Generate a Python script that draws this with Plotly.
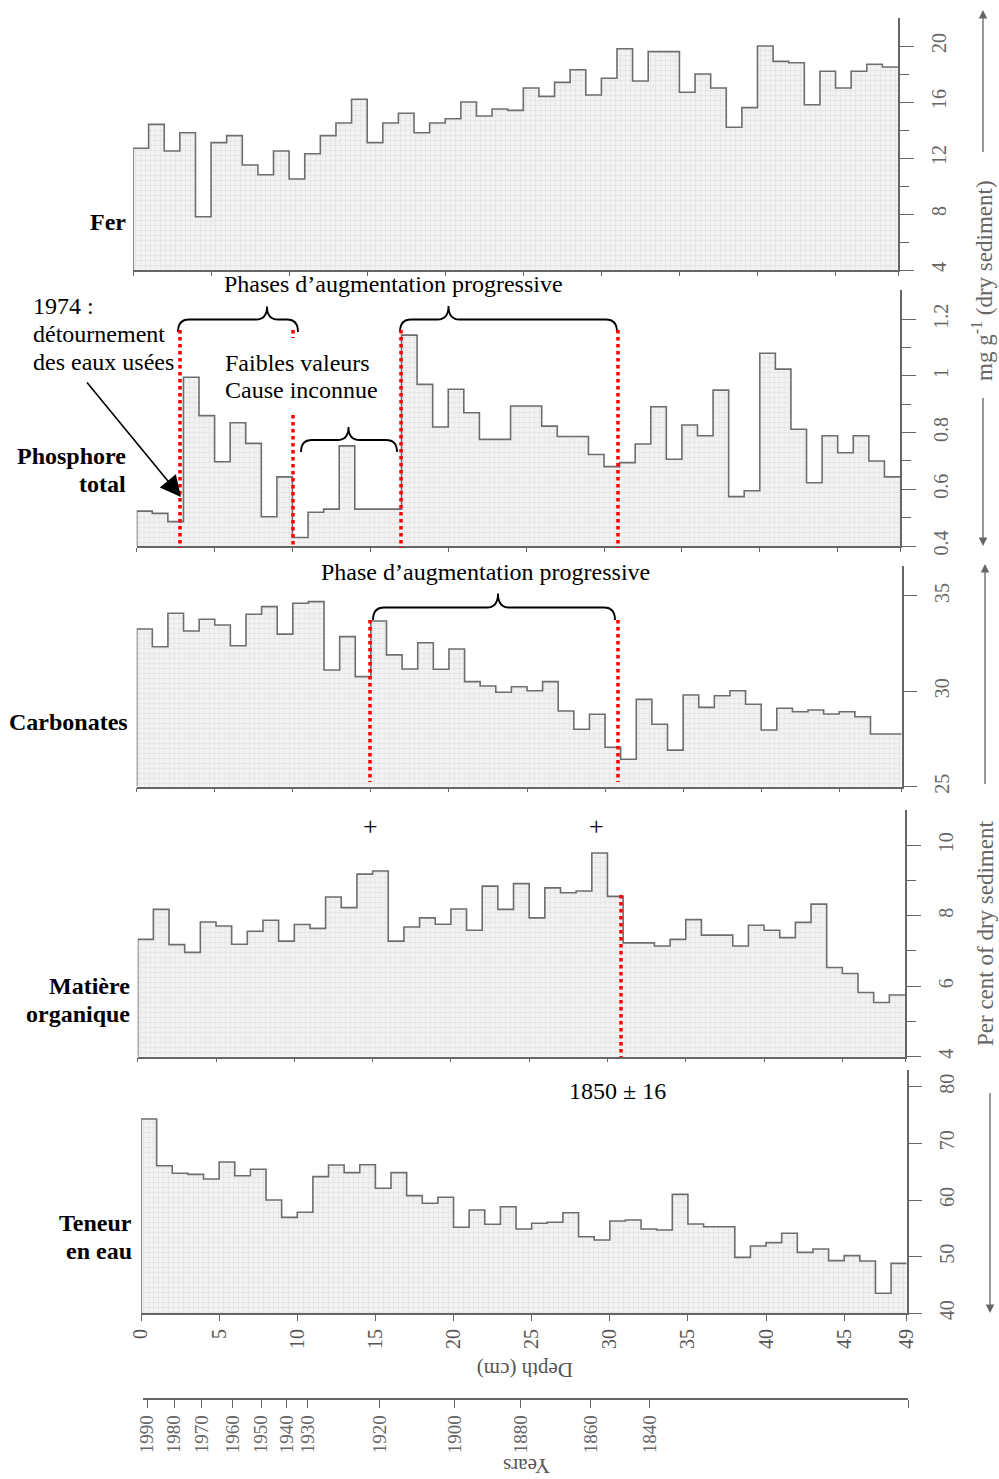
import plotly.graph_objects as go

W, H = 999, 1479
def fx(p): return p / W
def fy(p): return 1 - p / H

# ---------------- data ----------------
depth_edges = list(range(50))          # 0..49 cm, one sample per cm
depth_ticks = [0, 5, 10, 15, 20, 25, 30, 35, 40, 45, 49]

fer = [12.7, 14.4, 12.5, 13.8, 7.8, 13.1, 13.6, 11.5, 10.8, 12.5,
       10.5, 12.3, 13.6, 14.5, 16.2, 13.1, 14.5, 15.2, 13.8, 14.5,
       14.8, 16.0, 15.0, 15.5, 15.4, 17.0, 16.4, 17.4, 18.3, 16.5,
       17.7, 19.8, 17.5, 19.6, 19.6, 16.7, 18.0, 17.0, 14.2, 15.6,
       20.0, 18.9, 18.8, 15.8, 18.2, 17.0, 18.2, 18.7, 18.5]

phosphore = [0.523, 0.515, 0.486, 0.995, 0.86, 0.697, 0.835, 0.762, 0.503, 0.644,
             0.43, 0.519, 0.53, 0.753, 0.53, 0.53, 0.53, 1.144, 0.97, 0.82,
             0.953, 0.87, 0.776, 0.776, 0.894, 0.894, 0.823, 0.786, 0.786, 0.723,
             0.68, 0.694, 0.76, 0.891, 0.706, 0.827, 0.789, 0.95, 0.574, 0.595,
             1.08, 1.024, 0.812, 0.623, 0.789, 0.729, 0.789, 0.70, 0.644]

carbonates = [33.27, 32.34, 34.09, 33.16, 33.78, 33.48, 32.39, 34.04, 34.44, 33.0,
              34.62, 34.70, 31.12, 32.87, 30.77, 33.69, 31.91, 31.17, 32.55, 31.16,
              32.22, 30.51, 30.28, 29.95, 30.24, 30.03, 30.51, 28.97, 28.01, 28.80,
              27.07, 26.44, 29.58, 28.27, 26.92, 29.81, 29.16, 29.77, 30.03, 29.32,
              27.97, 29.11, 28.93, 29.02, 28.81, 28.93, 28.67, 27.76, 27.76]

matiere = [7.33, 8.18, 7.18, 6.96, 7.82, 7.71, 7.19, 7.56, 7.87, 7.28,
           7.75, 7.64, 8.53, 8.23, 9.18, 9.27, 7.28, 7.68, 7.94, 7.76,
           8.19, 7.59, 8.84, 8.18, 8.91, 7.94, 8.79, 8.65, 8.70, 9.78,
           8.55, 7.23, 7.23, 7.14, 7.33, 7.89, 7.45, 7.45, 7.14, 7.73,
           7.59, 7.38, 7.81, 8.33, 6.53, 6.36, 5.82, 5.54, 5.75]

eau = [74.3, 66.06, 64.71, 64.53, 63.71, 66.7, 64.29, 65.42, 60.0, 56.94,
       57.83, 64.12, 66.18, 64.83, 66.23, 62.07, 64.83, 60.77, 59.42, 60.48,
       55.18, 58.24, 55.71, 58.82, 54.88, 55.89, 56.06, 57.76, 53.52, 52.94,
       56.29, 56.47, 54.88, 54.7, 61.0, 55.76, 55.29, 55.29, 49.88, 51.88,
       52.47, 54.12, 50.76, 51.35, 49.29, 50.18, 49.23, 43.53, 48.82]

year_labels = ['1990', '1980', '1970', '1960', '1950', '1940', '1930',
               '1920', '1900', '1880', '1860', '1840']
year_depth = [0.26, 2.0, 3.77, 5.76, 7.57, 9.22, 10.56, 15.14, 19.98, 24.19, 28.68, 32.45]

# ---------------- layout config ----------------
panels = [
    dict(vals=fer, rng=[4, 22], tv=[4, 8, 12, 16, 20], tt=None, minor=[6, 10, 14, 18],
         xd=(133, 898), yd=(270, 18)),
    dict(vals=phosphore, rng=[0.4, 1.303], tv=[0.4, 0.6, 0.8, 1.0, 1.2],
         tt=['0.4', '0.6', '0.8', '1', '1.2'], minor=[0.5, 0.7, 0.9, 1.1],
         xd=(136.7, 900), yd=(546, 290)),
    dict(vals=carbonates, rng=[25, 36.57], tv=[25, 30, 35], tt=None, minor=[],
         xd=(136.7, 901.7), yd=(786.7, 566)),
    dict(vals=matiere, rng=[4, 11], tv=[4, 6, 8, 10], tt=None, minor=[5, 7, 9],
         xd=(137.7, 905), yd=(1056.7, 810)),
    dict(vals=eau, rng=[40, 82.95], tv=[40, 50, 60, 70, 80], tt=None, minor=[],
         xd=(141, 906.7), yd=(1313.3, 1070)),
]

SERIF = 'Liberation Serif'
AX = '#666666'

fig = go.Figure()
layout = dict(width=W, height=H, margin=dict(l=0, r=0, t=0, b=0, pad=0),
              template='none', paper_bgcolor='white', plot_bgcolor='rgba(0,0,0,0)',
              showlegend=False)

for i, p in enumerate(panels, start=1):
    xn = 'x' if i == 1 else f'x{i}'
    yn = 'y' if i == 1 else f'y{i}'
    vals = p['vals']
    xs = [depth_edges[0]] + depth_edges[:-1] + [depth_edges[-1]]
    ys = [p['rng'][0]] + vals + [vals[-1]]
    fig.add_trace(go.Scatter(
        x=xs, y=ys, mode='lines', xaxis=xn, yaxis=yn,
        line=dict(shape='hv', color='#6e6e6e', width=1.6),
        fill='tozeroy', fillcolor='#efefef',
        fillpattern=dict(shape='+', size=5, solidity=0.2,
                         fgcolor='#dcdcdc', bgcolor='#f2f2f2'),
        hoverinfo='skip'))
    xa = dict(domain=[fx(p['xd'][0]), fx(p['xd'][1])], range=[0, 49], anchor=yn,
              showline=True, linecolor=AX, linewidth=1.5, ticks='outside',
              tickvals=depth_ticks, ticklen=6 if i == 5 else 4, tickcolor=AX,
              showticklabels=(i == 5), tickangle=-90,
              tickfont=dict(family=SERIF, size=20, color='#555'),
              showgrid=False, zeroline=False, automargin=False, fixedrange=True)
    ya = dict(domain=[fy(p['yd'][0]), fy(p['yd'][1])], range=p['rng'], anchor=xn,
              side='right', showline=True, linecolor=AX, linewidth=1.5,
              ticks='outside', ticklen=14, tickcolor=AX, tickvals=p['tv'],
              tickangle=-90, ticklabelstandoff=8,
              tickfont=dict(family=SERIF, size=20, color='#666'),
              showgrid=False, zeroline=False, automargin=False, fixedrange=True)
    if p['minor']:
        ya['minor'] = dict(tickvals=p['minor'], ticklen=9, ticks='outside', tickcolor=AX)
    if p['tt'] is not None:
        ya['ticktext'] = p['tt']
    layout['xaxis' if i == 1 else f'xaxis{i}'] = xa
    layout['yaxis' if i == 1 else f'yaxis{i}'] = ya

# Years axis
fig.add_trace(go.Scatter(x=year_depth, y=[0] * len(year_depth), mode='markers',
                         marker=dict(opacity=0), xaxis='x6', yaxis='y6', hoverinfo='skip'))
layout['xaxis6'] = dict(domain=[fx(143), fx(908)], range=[0, 49], anchor='y6',
                        showline=True, linecolor=AX, linewidth=1.5, ticks='outside',
                        tickvals=year_depth, ticktext=year_labels,
                        ticklen=8, tickcolor=AX, tickangle=-90,
                        minor=dict(tickvals=[49], ticklen=8, ticks='outside', tickcolor=AX),
                        tickfont=dict(family=SERIF, size=19, color='#666'),
                        showgrid=False, zeroline=False, automargin=False, fixedrange=True)
layout['yaxis6'] = dict(domain=[fy(1398), fy(1396)], anchor='x6', visible=False,
                        range=[0, 1], fixedrange=True)

fig.update_layout(**layout)

# ---------------- annotations ----------------
ann = []
def text(x, y, s, size=24, bold=False, xanchor='center', yanchor='middle', align='center',
         color='black', angle=0):
    ann.append(dict(x=fx(x), y=fy(y), xref='paper', yref='paper', text=(f'<b>{s}</b>' if bold else s),
                    showarrow=False, xanchor=xanchor, yanchor=yanchor, align=align,
                    textangle=angle, font=dict(family=SERIF, size=size, color=color)))

text(128, 222, 'Fer', bold=True, xanchor='right')
text(128, 456, 'Phosphore', bold=True, xanchor='right')
text(128, 484, 'total', bold=True, xanchor='right')
text(130, 722, 'Carbonates', bold=True, xanchor='right')
text(132, 986, 'Matière', bold=True, xanchor='right')
text(132, 1014, 'organique', bold=True, xanchor='right')
text(134, 1223, 'Teneur', bold=True, xanchor='right')
text(134, 1251, 'en eau', bold=True, xanchor='right')

text(393, 284, 'Phases d’augmentation progressive')
text(31, 306, '1974 :', xanchor='left')
text(31, 334, 'détournement', xanchor='left')
text(31, 362, 'des eaux usées', xanchor='left')
text(223, 363, 'Faibles valeurs', xanchor='left')
text(223, 390, 'Cause inconnue', xanchor='left')
text(485, 572, 'Phase d’augmentation progressive')
text(370, 826, '+', size=26)
text(596, 826, '+', size=26)
text(617, 1091, '1850 ± 16')

text(982, 281, 'mg g<sup>-1</sup> (dry sediment)', size=23, color='#666', angle=-90)
text(985, 934, 'Per cent of dry sediment', size=23, color='#666', angle=-90)
text(525, 1370, 'Depth (cm)', size=21, color='#555', angle=180)
text(527, 1466, 'Years', size=21, color='#555', angle=180)

def arrow(hx, hy, tx, ty, color='black', width=1.5, size=1.0, head=2):
    ann.append(dict(x=fx(hx), y=fy(hy), xref='paper', yref='paper', text=' ',
                    showarrow=True, ax=tx - hx, ay=ty - hy, axref='pixel', ayref='pixel',
                    arrowhead=head, arrowsize=size, arrowwidth=width, arrowcolor=color,
                    standoff=0, startstandoff=0, font=dict(size=2)))

arrow(181, 497, 85, 380, width=1.6, size=2.6, head=2)
arrow(983, 10, 983, 155, color='#666', width=1.3, size=1.3)
arrow(983, 546, 983, 395, color='#666', width=1.3, size=1.3)
arrow(985, 564, 985, 787, color='#666', width=1.3, size=1.3)
arrow(990, 1313, 990, 1090, color='#666', width=1.3, size=1.3)

fig.update_layout(annotations=ann)

# ---------------- shapes: braces and red dotted lines ----------------
shapes = []
def brace(x1, x2, xt, y_line, y_end, y_tip, r=11):
    P = lambda x, y: f'{fx(x):.5f},{fy(y):.5f}'
    path = (f'M {P(x1, y_end)} Q {P(x1, y_line)} {P(x1 + r, y_line)} '
            f'L {P(xt - r, y_line)} Q {P(xt, y_line)} {P(xt, y_tip)} '
            f'Q {P(xt, y_line)} {P(xt + r, y_line)} '
            f'L {P(x2 - r, y_line)} Q {P(x2, y_line)} {P(x2, y_end)}')
    shapes.append(dict(type='path', path=path, xref='paper', yref='paper',
                       line=dict(color='black', width=1.8)))

brace(178, 298, 267, 319.5, 332, 306.5)
brace(301, 397, 348.5, 440, 452, 427)
brace(400, 617, 448.5, 319.5, 332, 306)
brace(373, 615, 498, 607.5, 620, 593.5)

def red(x, y0, y1):
    shapes.append(dict(type='line', xref='paper', yref='paper',
                       x0=fx(x), x1=fx(x), y0=fy(y0), y1=fy(y1),
                       line=dict(color='#ff0000', width=3.5, dash='dot')))

red(180, 330, 548)
red(293, 330, 338)
red(293, 415, 548)
red(401, 330, 548)
red(618, 330, 548)
red(370, 620, 782)
red(618, 620, 782)
red(621, 895, 1057)

fig.update_layout(shapes=shapes)

fig.write_html('out.html')
